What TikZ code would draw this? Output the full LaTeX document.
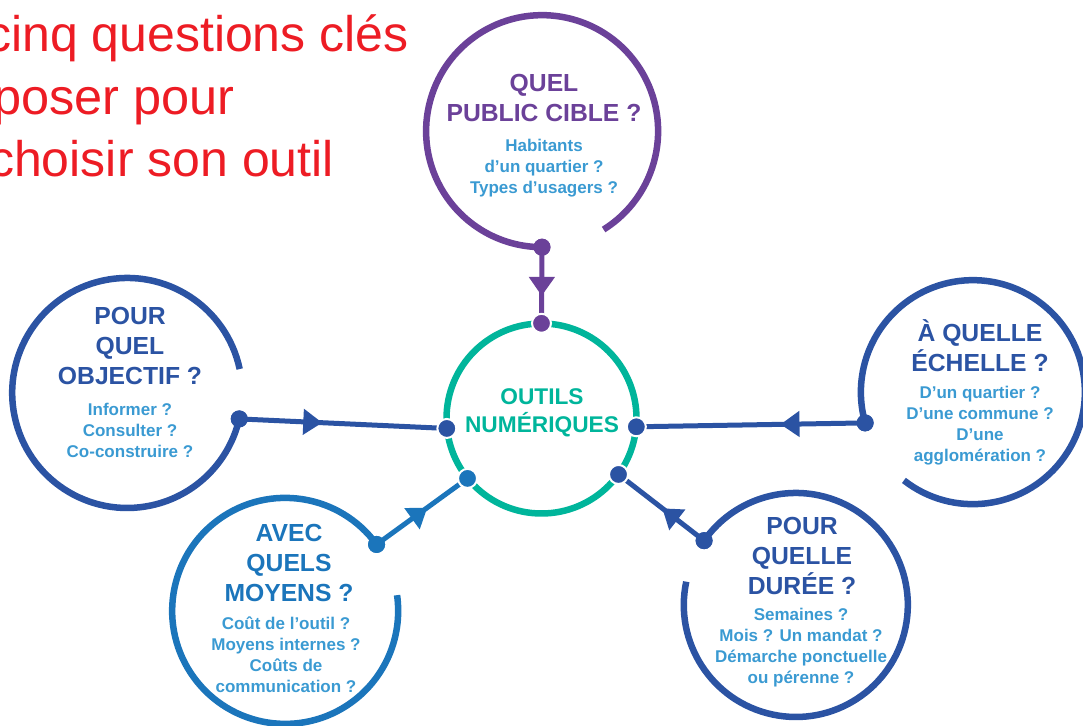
\documentclass[tikz,border=0pt]{standalone}
\usepackage{fontspec}
\setmainfont{Liberation Sans}[BoldFont={Liberation Sans Bold}]
\usetikzlibrary{arrows.meta,decorations.markings}
\definecolor{cpurple}{HTML}{6B4199}
\definecolor{cdark}{HTML}{2B53A3}
\definecolor{cmid}{HTML}{1B75BB}
\definecolor{clight}{HTML}{3A9AD2}
\definecolor{cteal}{HTML}{00B59B}
\definecolor{cred}{HTML}{ED1C24}
\tikzset{
  ring/.style={line width=6.5pt, line cap=butt},
  zone/.style={circle, draw=none, inner sep=0pt, minimum size=#1},
  conn/.style={line width=5pt},
  enddot/.style={circle, fill=#1, inner sep=0pt, minimum size=17pt},
  hubdot/.style={circle, fill=#1, draw=white, line width=2pt, inner sep=0pt, minimum size=19pt},
  head/.style={font=\bfseries\fontsize{24.7}{30}\selectfont, align=center, inner sep=0pt, anchor=base},
  subq/.style={font=\bfseries\fontsize{17}{21}\selectfont, text=clight, align=center, inner sep=0pt, anchor=base},
  titleline/.style={font=\fontsize{50}{62}\selectfont, text=cred, inner sep=0pt, anchor=base west},
  midarrow/.style={decoration={markings, mark=at position #1 with {\arrow{Triangle[length=19pt,width=25pt]}}}, postaction=decorate}
}
\begin{document}
\begin{tikzpicture}[x=1pt,y=1pt]
\useasboundingbox (0,0) rectangle (1083,725);
\clip (0,0) rectangle (1083,725);

% title
\node[titleline] (t1) at (-14,673) {cinq questions clés};
\node[titleline, font=\fontsize{50.5}{62}\selectfont] (t2) at (-7,610) {poser pour};
\node[titleline] (t3) at (-11,548) {choisir son outil};

% circle zones
\node[zone=190pt] (hub) at (541.5,306.5) {};
\node[zone=232pt] (pub) at (542,594) {};
\node[zone=230pt] (obj) at (127,332) {};
\node[zone=224pt] (ech) at (973,333) {};
\node[zone=226pt] (moy) at (285,114) {};
\node[zone=224pt] (dur) at (796,120) {};

% rings
\draw[ring, cteal] (hub.center) circle[radius=95pt];
\draw[ring, cpurple] (pub.302) arc[start angle=302, end angle=630, radius=116pt];
\draw[ring, cdark] (obj.12) arc[start angle=12, end angle=347, radius=115pt];
\draw[ring, cdark] (ech.232) arc[start angle=232, end angle=556, radius=112pt];
\draw[ring, cmid] (moy.36) arc[start angle=36, end angle=368, radius=113pt];
\draw[ring, cdark] (dur.168) arc[start angle=168, end angle=505, radius=112pt];

% dots
\node[enddot=cpurple] (dpub) at (pub.270) {};
\node[enddot=cdark] (dobj) at (obj.347) {};
\node[enddot=cdark] (dech) at (ech.196) {};
\node[enddot=cmid] (dmoy) at (moy.36) {};
\node[enddot=cdark] (ddur) at (dur.145) {};

% connectors
\draw[conn, cpurple, midarrow=0.64] (dpub.center) -- (hub.90);
\draw[conn, cdark, midarrow=0.40] (dobj.center) -- (hub.186);
\draw[conn, cdark, midarrow=0.37] (dech.center) -- (hub.355);
\draw[conn, cmid, midarrow=0.56] (dmoy.center) -- (hub.219);
\draw[conn, cdark, midarrow=0.49] (ddur.center) -- (hub.324);

\node[enddot=cpurple] at (pub.270) {};
\node[enddot=cdark] at (obj.347) {};
\node[enddot=cdark] at (ech.196) {};
\node[enddot=cmid] at (moy.36) {};
\node[enddot=cdark] at (dur.145) {};

\node[hubdot=cpurple] (hpub) at (hub.90) {};
\node[hubdot=cdark] (hobj) at (hub.186) {};
\node[hubdot=cdark] (hech) at (hub.355) {};
\node[hubdot=cmid] (hmoy) at (hub.219) {};
\node[hubdot=cdark] (hdur) at (hub.324) {};

% texts (anchor base = baseline of last line)
\node[head, text=cteal, font=\bfseries\fontsize{22.7}{28}\selectfont] (lhub) at (542,292) {OUTILS\\NUMÉRIQUES};

\node[head, text=cpurple] (hpubt) at (544,603) {QUEL\\PUBLIC CIBLE ?};
\node[subq] (spub) at (544,531) {Habitants\\d’un quartier ?\\Types d’usagers ?};

\node[head, text=cdark] (hobjt) at (130,340) {POUR\\QUEL\\OBJECTIF ?};
\node[subq] (sobj) at (130,267) {Informer ?\\Consulter ?\\Co-construire ?};

\node[head, text=cdark] (hecht) at (980,353) {À QUELLE\\ÉCHELLE ?};
\node[subq] (sech) at (980,263) {D’un quartier ?\\D’une commune ?\\D’une\\agglomération ?};

\node[head, text=cmid] (hmoyt) at (289,123) {AVEC\\QUELS\\MOYENS ?};
\node[subq] (smoy) at (286,33) {Coût de l’outil ?\\Moyens internes ?\\Coûts de\\communication ?};

\node[head, text=cdark] (hdurt) at (802,130) {POUR\\QUELLE\\DURÉE ?};
\node[subq] (sdur) at (801,42) {Semaines ?\\Mois ? Un mandat ?\\Démarche ponctuelle\\ou pérenne ?};
\end{tikzpicture}
\end{document}
